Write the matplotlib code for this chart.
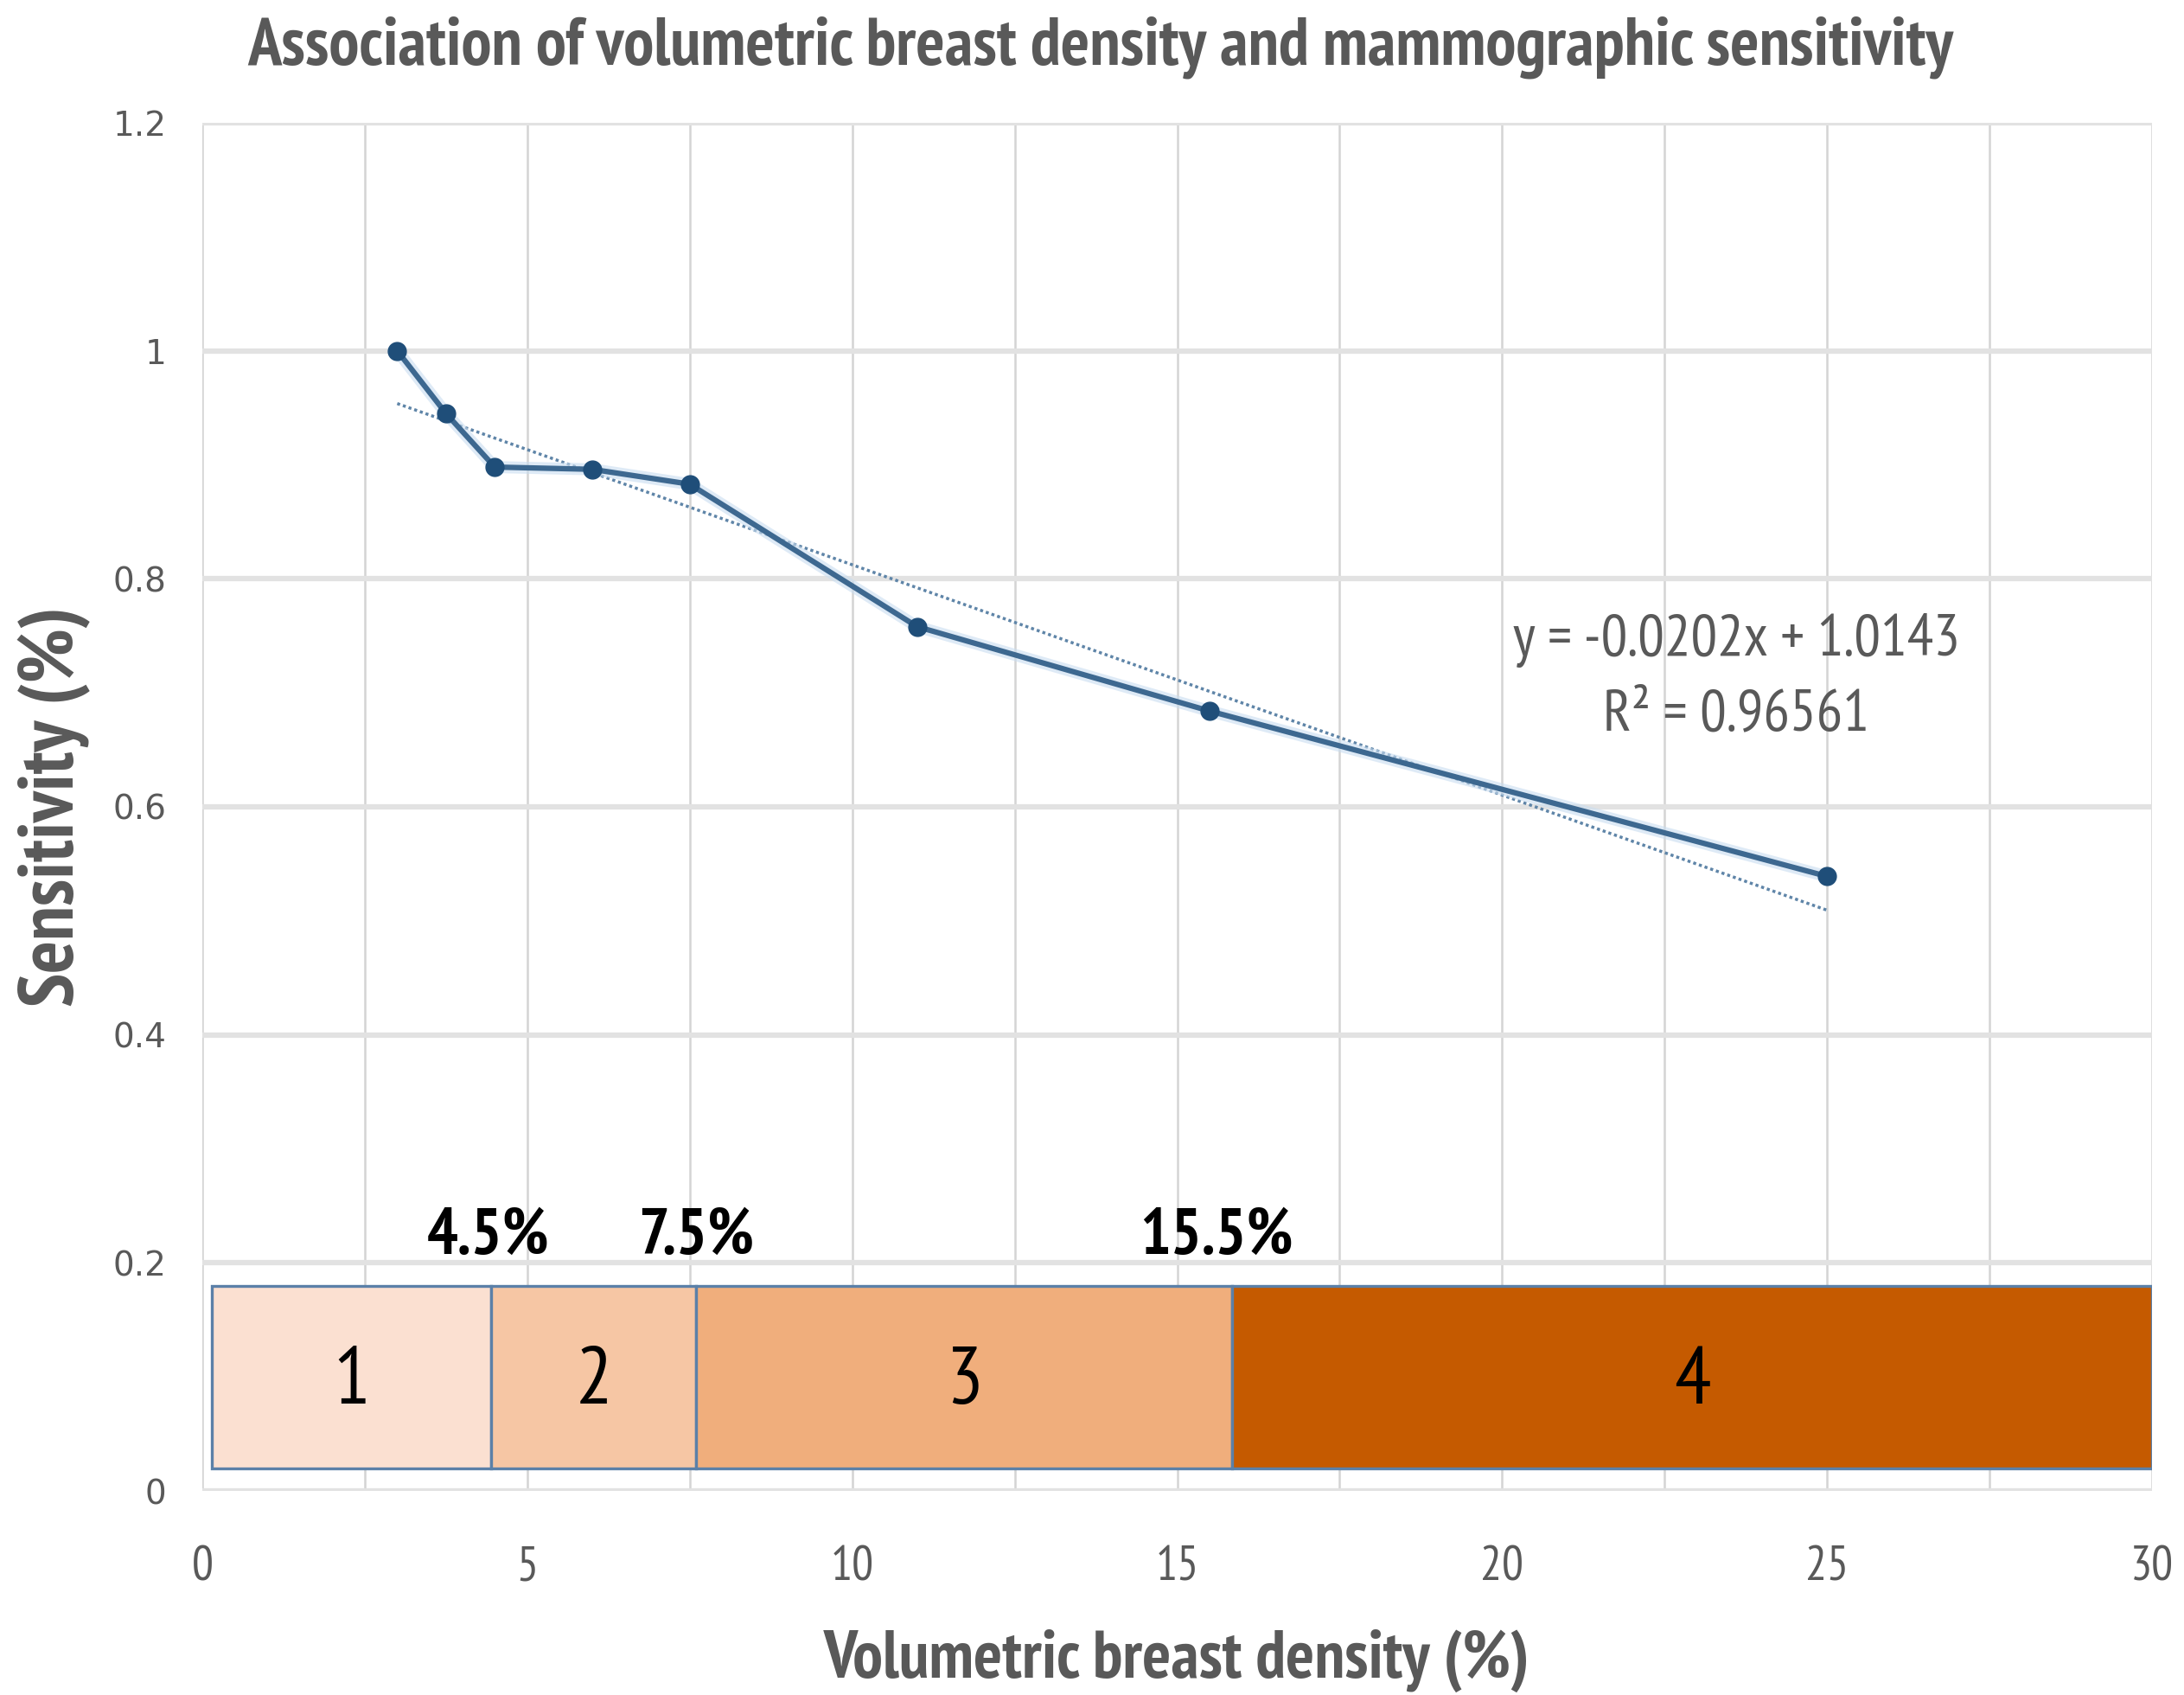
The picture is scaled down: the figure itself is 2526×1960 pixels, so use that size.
import matplotlib
matplotlib.use("Agg")
import matplotlib.pyplot as plt
import numpy as np

# ---- data ----
density = [3.0, 3.75, 4.5, 6.0, 7.5, 11.0, 15.5, 25.0]
sensitivity = [1.0, 0.945, 0.898, 0.896, 0.883, 0.758, 0.684, 0.539]
trend_slope = -0.0202
trend_intercept = 1.0143
trend_r2 = 0.96561
trend_x = [3.0, 25.0]

category_labels = ["1", "2", "3", "4"]
category_edges = [0.15, 4.45, 7.6, 15.85, 30.0]
category_colors = ["#FBE0D1", "#F6C6A4", "#F0AE7C", "#C55A00"]
cutoff_labels = ["4.5%", "7.5%", "15.5%"]
cutoff_pos = [4.4, 7.6, 15.6]

xticks = [0, 5, 10, 15, 20, 25, 30]
yticks = [0, 0.2, 0.4, 0.6, 0.8, 1.0, 1.2]
ytick_labels = ["0", "0.2", "0.4", "0.6", "0.8", "1", "1.2"]

NARROW = ["PT Sans Narrow", "DejaVu Sans"]

fig = plt.figure(figsize=(25.26, 19.6), dpi=100)
ax = fig.add_axes([0.0926, 0.1204, 0.8928, 0.8072])
ax.set_xlim(0, 30)
ax.set_ylim(0, 1.2)

# grid
for gx in np.arange(0, 30.01, 2.5):
    ax.axvline(gx, color="#D4D4D4", lw=1.8, zorder=0)
for gy in yticks:
    ax.axhline(gy, color="#E2E2E2", lw=4.5, zorder=0)

for s in ax.spines.values():
    s.set_visible(False)

ax.set_xticks(xticks)
ax.set_xticklabels([str(v) for v in xticks], family=NARROW, fontsize=40, color="#595959")
ax.set_yticks(yticks)
ax.set_yticklabels(ytick_labels, family="DejaVu Sans", fontsize=28, color="#595959")
ax.tick_params(length=0, pad=30)
ax.tick_params(axis="x", pad=46)

# category bar
widths = np.diff(category_edges)
ax.barh([0.1] * 4, widths, left=category_edges[:-1], height=0.16,
        color=category_colors, edgecolor="#5B80A8", linewidth=2.4, zorder=2)
for lab, l, w in zip(category_labels, category_edges[:-1], widths):
    ax.text(l + w / 2, 0.095, lab, ha="center", va="center", family=NARROW,
            fontsize=68, color="black", zorder=3)
for lab, px in zip(cutoff_labels, cutoff_pos):
    ax.text(px, 0.222, lab, ha="center", va="center", family=NARROW,
            fontsize=54, fontweight="bold", color="black", zorder=3)

# trend line
tx = np.array(trend_x)
ax.plot(tx, trend_slope * tx + trend_intercept, ls=(0, (1, 1)), color="#5F85A8",
        lw=2.5, zorder=3)

# data line
ax.plot(density, sensitivity, color="#C9DDF0", lw=10, alpha=0.6, zorder=3,
        solid_capstyle="round")
ax.plot(density, sensitivity, color="#3D6890", lw=4.5, marker="o", markersize=15,
        markerfacecolor="#1F4E79", markeredgecolor="#1F4E79", zorder=4)

ax.text(23.6, 0.713, f"y = {trend_slope}x + {trend_intercept}\nR\u00b2 = {trend_r2}",
        ha="center", va="center", family=NARROW, fontsize=49, color="#595959",
        linespacing=1.5, zorder=5)

ax.set_xlabel("Volumetric breast density (%)", family=NARROW, fontsize=56,
              fontweight="bold", color="#595959", labelpad=32)
ax.set_ylabel("Sensitivity (%)", family=NARROW, fontsize=64,
              fontweight="bold", color="#595959", labelpad=18)

fig.text(0.504, 0.972, "Association of volumetric breast density and mammographic sensitivity",
         ha="center", va="center", family=NARROW, fontsize=56.5, fontweight="bold",
         color="#595959")

fig.savefig("out.png", dpi=100, facecolor="white")
